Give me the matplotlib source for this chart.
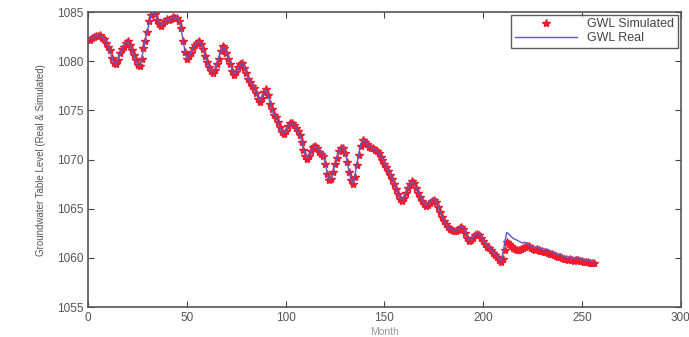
import numpy as np
import matplotlib
matplotlib.use("Agg")
import matplotlib.pyplot as plt

plt.rcParams['font.family'] = ['Liberation Sans', 'DejaVu Sans']

# monthly groundwater level (m)
gwl_real = [
    1082.3, 1082.4, 1082.4, 1082.6, 1082.7, 1082.6, 1082.5, 1082.3, 1082.0, 1081.6,
    1081.0, 1080.4, 1079.9, 1079.7, 1080.2, 1080.7, 1081.2, 1081.6, 1081.9, 1082.0,
    1081.7, 1081.2, 1080.7, 1080.1, 1079.7, 1079.6, 1080.3, 1081.2, 1082.2, 1083.1,
    1084.0, 1084.8, 1085.0, 1084.7, 1084.3, 1083.9, 1083.7, 1083.9, 1084.2, 1084.3,
    1084.1, 1084.4, 1084.5, 1084.3, 1084.5, 1084.2, 1083.3, 1082.2, 1081.0, 1080.3,
    1080.5, 1080.9, 1081.3, 1081.6, 1081.9, 1082.0, 1081.8, 1081.3, 1080.6, 1080.0,
    1079.5, 1079.0, 1078.9, 1079.1, 1079.6, 1080.3, 1081.0, 1081.5, 1081.3, 1080.9,
    1080.3, 1079.7, 1079.1, 1078.7, 1078.9, 1079.3, 1079.6, 1079.8, 1079.4, 1078.9,
    1078.3, 1077.9, 1077.6, 1077.4, 1076.9, 1076.3, 1076.0, 1076.4, 1076.9, 1077.1,
    1076.6, 1075.8, 1075.1, 1074.6, 1074.4, 1073.9, 1073.3, 1072.9, 1072.7, 1072.9,
    1073.3, 1073.6, 1073.7, 1073.6, 1073.3, 1072.9, 1072.6, 1071.9, 1071.1, 1070.5,
    1070.2, 1070.5, 1070.9, 1071.2, 1071.3, 1071.2, 1070.9, 1070.7, 1070.5, 1069.6,
    1068.6, 1068.0, 1068.1, 1068.8, 1069.6, 1070.2, 1070.8, 1071.2, 1071.3, 1070.8,
    1069.9, 1068.8, 1068.0, 1067.6, 1068.3, 1069.5, 1070.6, 1071.5, 1072.0, 1071.9,
    1071.6, 1071.4, 1071.3, 1071.2, 1071.1, 1071.0, 1070.7, 1070.4, 1070.1, 1069.7,
    1069.3, 1068.9, 1068.5, 1068.1, 1067.6, 1067.1, 1066.6, 1066.1, 1065.9, 1066.2,
    1066.7, 1067.2, 1067.5, 1067.7, 1067.6, 1067.2, 1066.7, 1066.3, 1065.9, 1065.6,
    1065.4, 1065.5, 1065.7, 1065.9, 1066.0, 1065.8, 1065.3, 1064.8, 1064.3, 1063.9,
    1063.5, 1063.2, 1063.0, 1062.9, 1062.8, 1062.8, 1062.9, 1063.1, 1063.2, 1063.0,
    1062.6, 1062.1, 1061.8, 1061.9, 1062.1, 1062.4, 1062.5, 1062.4, 1062.1, 1061.8,
    1061.5, 1061.2, 1061.1, 1060.9, 1060.6, 1060.4, 1060.2, 1059.9, 1059.7, 1060.5,
    1061.7, 1062.6, 1062.4, 1062.2, 1062.0, 1061.9, 1061.8, 1061.7, 1061.6, 1061.5,
    1061.6, 1061.5, 1061.4, 1061.2, 1061.1, 1061.0, 1061.1, 1061.0, 1060.9, 1060.9,
    1060.8, 1060.9, 1060.8, 1060.7, 1060.6, 1060.5, 1060.4, 1060.3, 1060.4, 1060.2,
    1060.1, 1060.1, 1060.0, 1060.1, 1060.0, 1059.9, 1060.1, 1060.0, 1059.9, 1059.9,
    1059.8, 1059.8, 1059.7, 1059.7, 1059.6, 1059.6,
]

gwl_sim = [
    1082.2, 1082.4, 1082.5, 1082.6, 1082.6, 1082.7, 1082.4, 1082.3, 1081.9, 1081.5,
    1081.1, 1080.3, 1079.8, 1079.7, 1080.1, 1080.8, 1081.2, 1081.5, 1081.9, 1082.1,
    1081.7, 1081.1, 1080.6, 1080.1, 1079.6, 1079.5, 1080.2, 1081.3, 1082.1, 1083.0,
    1084.1, 1084.7, 1085.0, 1084.8, 1084.2, 1083.8, 1083.6, 1083.9, 1084.1, 1084.3,
    1084.2, 1084.3, 1084.5, 1084.4, 1084.4, 1084.1, 1083.4, 1082.1, 1080.9, 1080.2,
    1080.5, 1080.8, 1081.3, 1081.7, 1081.9, 1082.1, 1081.8, 1081.2, 1080.5, 1079.9,
    1079.4, 1079.0, 1078.8, 1079.1, 1079.7, 1080.2, 1081.0, 1081.6, 1081.3, 1080.8,
    1080.2, 1079.7, 1079.0, 1078.6, 1078.9, 1079.4, 1079.7, 1079.8, 1079.3, 1078.8,
    1078.2, 1077.9, 1077.5, 1077.3, 1076.8, 1076.2, 1075.9, 1076.3, 1076.9, 1077.2,
    1076.6, 1075.7, 1075.1, 1074.5, 1074.3, 1073.8, 1073.3, 1072.8, 1072.6, 1072.9,
    1073.4, 1073.7, 1073.7, 1073.5, 1073.2, 1072.9, 1072.5, 1071.8, 1071.0, 1070.4,
    1070.1, 1070.4, 1070.9, 1071.3, 1071.4, 1071.2, 1070.8, 1070.6, 1070.4, 1069.5,
    1068.5, 1067.9, 1068.0, 1068.7, 1069.5, 1070.2, 1070.9, 1071.2, 1071.2, 1070.7,
    1069.8, 1068.7, 1067.9, 1067.5, 1068.2, 1069.4, 1070.5, 1071.4, 1072.0, 1071.8,
    1071.6, 1071.3, 1071.2, 1071.2, 1071.0, 1070.9, 1070.7, 1070.3, 1070.0, 1069.6,
    1069.2, 1068.8, 1068.4, 1068.0, 1067.5, 1067.0, 1066.5, 1066.0, 1065.8, 1066.1,
    1066.6, 1067.1, 1067.5, 1067.8, 1067.6, 1067.1, 1066.6, 1066.2, 1065.8, 1065.5,
    1065.3, 1065.4, 1065.6, 1065.8, 1065.9, 1065.7, 1065.2, 1064.7, 1064.2, 1063.8,
    1063.4, 1063.1, 1062.9, 1062.8, 1062.7, 1062.7, 1062.8, 1063.0, 1063.1, 1062.9,
    1062.5, 1062.0, 1061.7, 1061.8, 1062.0, 1062.3, 1062.4, 1062.3, 1062.0, 1061.7,
    1061.4, 1061.1, 1061.0, 1060.8, 1060.5, 1060.3, 1060.1, 1059.8, 1059.6, 1059.9,
    1060.8, 1061.6, 1061.4, 1061.2, 1061.0, 1060.9, 1060.8, 1060.8, 1060.9, 1061.0,
    1061.1, 1061.2, 1061.2, 1061.0, 1060.9, 1060.8, 1060.9, 1060.8, 1060.7, 1060.7,
    1060.6, 1060.6, 1060.5, 1060.4, 1060.4, 1060.3, 1060.2, 1060.1, 1060.1, 1060.0,
    1059.9, 1059.9, 1059.8, 1059.9, 1059.8, 1059.7, 1059.8, 1059.8, 1059.7, 1059.7,
    1059.6, 1059.6, 1059.6, 1059.5, 1059.5, 1059.5,
]

months = np.arange(1, len(gwl_real) + 1)

fig = plt.figure(figsize=(6.89, 3.37), dpi=100)
ax = fig.add_axes([0.128, 0.089, 0.86, 0.875])

ax.plot(months, gwl_sim, '*', color='#ee1c2e', markersize=6, label='GWL Simulated', zorder=2)
ax.plot(months, gwl_real, '-', color='#5a5ac8', linewidth=1.0, label='GWL Real', zorder=3)

ax.set_xlim(0, 300)
ax.set_ylim(1055, 1085)
ax.set_xticks([0, 50, 100, 150, 200, 250, 300])
ax.set_yticks([1055, 1060, 1065, 1070, 1075, 1080, 1085])

for s in ax.spines.values():
    s.set_color('#555555')
    s.set_linewidth(1.2)
ax.tick_params(direction='in', top=True, right=True, length=4, color='#444444',
               labelsize=8.5, labelcolor='#555555')

ax.set_xlabel('Month', fontsize=7.5, color='#999999', labelpad=2)
ax.set_ylabel('Groundwater Table Level (Real & Simulated)', fontsize=7, color='#555555', labelpad=8)

leg = ax.legend(loc='upper right', fontsize=9, frameon=True, fancybox=False,
                borderpad=0.3, handlelength=5, labelspacing=0.15,
                borderaxespad=0.2)
leg.get_frame().set_edgecolor('#333333')
leg.get_frame().set_linewidth(1.0)
for t in leg.get_texts():
    t.set_color('#444444')

fig.savefig('out.png', dpi=100)
